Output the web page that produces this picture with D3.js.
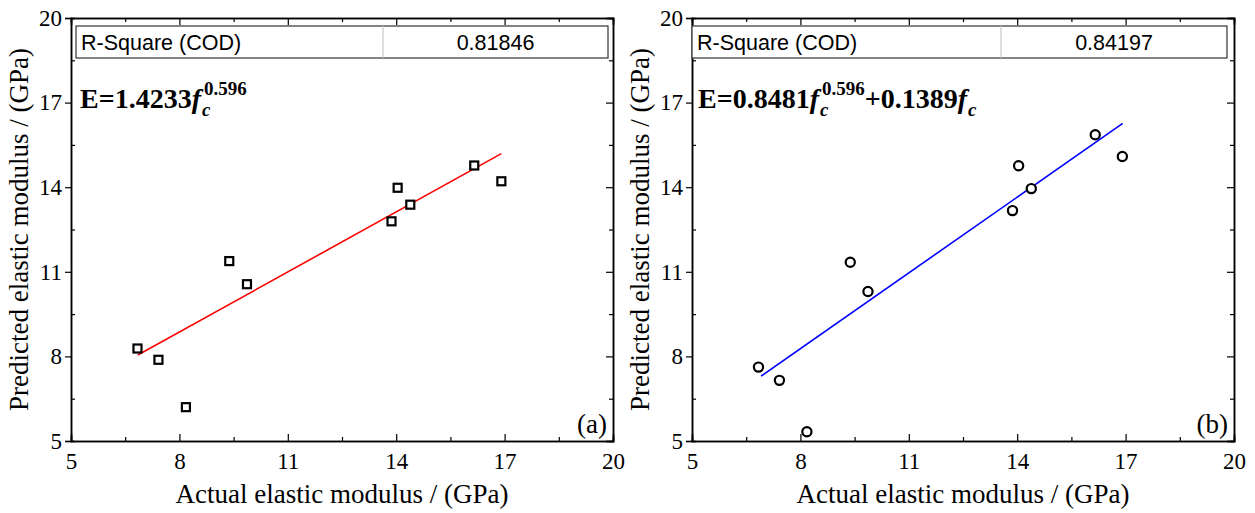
<!DOCTYPE html>
<html>
<head>
<meta charset="utf-8">
<script src="https://cdn.jsdelivr.net/npm/d3@7"></script>
<style>
  html, body { margin: 0; padding: 0; background: #fff; }
  svg { display: block; }
</style>
</head>
<body>
<svg id="chart" width="1255" height="513"></svg>
<script>
// Measured elastic modulus of the specimens (GPa)
const actual = [6.84, 7.42, 8.18, 9.38, 9.87, 13.87, 14.04, 14.39, 16.16, 16.91];
// Model (a): E = 1.4233 fc^0.596
const predictedA = [8.28, 7.88, 6.20, 11.38, 10.56, 12.79, 13.98, 13.38, 14.77, 14.21];
// Model (b): E = 0.8481 fc^0.596 + 0.1389 fc
const predictedB = [7.62, 7.15, 5.33, 11.34, 10.30, 13.17, 14.76, 13.95, 15.86, 15.09];
// Linear fit endpoints of predicted vs actual
const fitAx = [6.85, 16.91];
const fitAy = [8.05, 15.19];
const fitBx = [6.91, 16.92];
const fitBy = [7.30, 16.26];
// Axis ticks
const majorTicks = [5, 8, 11, 14, 17, 20];
const minorTicks = [6.5, 9.5, 12.5, 15.5, 18.5];
const rSquare = ["0.81846", "0.84197"];
const panelTags = ["(a)", "(b)"];

const svg = d3.select("#chart");
const serif = "'Liberation Serif', 'Times New Roman', serif";
const sans = "'Liberation Sans', Arial, sans-serif";

const panels = [
  { x0: 71, x1: 613, pred: predictedA, fx: fitAx, fy: fitAy, color: "#ff0000", marker: "square",
    r2: rSquare[0], tag: panelTags[0], tableX0: 76, tableX1: 608, divX: 383, eqX: 80,
    eq: [{t: "E=1.4233"}, {t: "f", i: true}, {t: "c", i: true, sub: true}, {t: "0.596", sup: true, stack: true}] },
  { x0: 692, x1: 1234, pred: predictedB, fx: fitBx, fy: fitBy, color: "#0000ff", marker: "circle",
    r2: rSquare[1], tag: panelTags[1], tableX0: 692, tableX1: 1227, divX: 1001, eqX: 698,
    eq: [{t: "E=0.8481"}, {t: "f", i: true}, {t: "c", i: true, sub: true}, {t: "0.596", sup: true, stack: true},
         {t: "+0.1389"}, {t: "f", i: true}, {t: "c", i: true, sub: true}] }
];
const yTop = 18, yBot = 441;

panels.forEach(p => {
  const x = d3.scaleLinear().domain([5, 20]).range([p.x0, p.x1]);
  const y = d3.scaleLinear().domain([5, 20]).range([yBot, yTop]);
  const g = svg.append("g");

  // Frame axes: ticks pointing into the plot, labels on left and bottom
  const fmt = d3.format("d");
  const bottom = g.append("g").attr("transform", `translate(0,${yBot})`)
    .call(d3.axisBottom(x).tickValues(majorTicks).tickSize(-7).tickPadding(12).tickFormat(fmt));
  bottom.append("g").call(d3.axisBottom(x).tickValues(minorTicks).tickSize(-4).tickFormat(""));
  const top = g.append("g").attr("transform", `translate(0,${yTop})`)
    .call(d3.axisTop(x).tickValues(majorTicks).tickSize(-7).tickFormat(""));
  top.append("g").call(d3.axisTop(x).tickValues(minorTicks).tickSize(-4).tickFormat(""));
  const left = g.append("g").attr("transform", `translate(${p.x0},0)`)
    .call(d3.axisLeft(y).tickValues(majorTicks).tickSize(6).tickPadding(3).tickFormat(fmt));
  left.append("g").call(d3.axisLeft(y).tickValues(minorTicks).tickSize(-4).tickFormat(""));
  const right = g.append("g").attr("transform", `translate(${p.x1},0)`)
    .call(d3.axisRight(y).tickValues(majorTicks).tickSize(-7).tickFormat(""));
  right.append("g").call(d3.axisRight(y).tickValues(minorTicks).tickSize(-4).tickFormat(""));

  g.selectAll(".domain").attr("stroke", "#000").attr("stroke-width", 1.5);
  g.selectAll(".tick line").attr("stroke", "#000").attr("stroke-width", 1.2);
  g.selectAll(".tick text").attr("font-family", serif).attr("font-size", 23).attr("fill", "#000");

  // Fit line
  g.append("path")
    .datum(d3.zip(p.fx, p.fy))
    .attr("d", d3.line().x(d => x(d[0])).y(d => y(d[1])))
    .attr("stroke", p.color).attr("stroke-width", 1.6).attr("fill", "none");

  // Data markers
  const pts = d3.zip(actual, p.pred);
  if (p.marker === "square") {
    g.selectAll("rect.pt").data(pts).join("rect").attr("class", "pt")
      .attr("x", d => x(d[0]) - 4).attr("y", d => y(d[1]) - 4)
      .attr("width", 8).attr("height", 8)
      .attr("fill", "#fff").attr("stroke", "#000").attr("stroke-width", 2.2);
  } else {
    g.selectAll("circle.pt").data(pts).join("circle").attr("class", "pt")
      .attr("cx", d => x(d[0])).attr("cy", d => y(d[1])).attr("r", 4.6)
      .attr("fill", "#fff").attr("stroke", "#000").attr("stroke-width", 2.2);
  }

  // R-square table
  const tY0 = 26, tY1 = 58;
  g.append("rect").attr("x", p.tableX0).attr("y", tY0)
    .attr("width", p.tableX1 - p.tableX0).attr("height", tY1 - tY0)
    .attr("fill", "#fff").attr("stroke", "#333").attr("stroke-width", 1.2);
  g.append("line").attr("x1", p.divX).attr("x2", p.divX).attr("y1", tY0).attr("y2", tY1)
    .attr("stroke", "#c8c8c8").attr("stroke-width", 1.2);
  g.append("text").attr("x", p.tableX0 + 5).attr("y", 50)
    .attr("font-family", sans).attr("font-size", 21.5).text("R-Square (COD)");
  g.append("text").attr("x", (p.divX + p.tableX1) / 2).attr("y", 50).attr("text-anchor", "middle")
    .attr("font-family", sans).attr("font-size", 21.5).text(p.r2);

  // Equation, laid out piece by piece so sub/superscripts stack
  let cx = p.eqX, prevStart = cx;
  const base = 108;
  p.eq.forEach(piece => {
    const small = piece.sub || piece.sup;
    const startX = piece.stack ? prevStart : cx;
    const t = g.append("text")
      .attr("x", startX)
      .attr("y", base + (piece.sub ? 8 : piece.sup ? -13 : 0))
      .attr("font-family", serif).attr("font-weight", "bold")
      .attr("font-style", piece.i ? "italic" : "normal")
      .attr("font-size", small ? 19 : 28)
      .text(piece.t);
    const w = t.node().getComputedTextLength();
    if (piece.stack) {
      cx = Math.max(cx, startX + w);
    } else {
      if (piece.sub) prevStart = startX + 2;
      cx = startX + w + (piece.t === "f" ? 1 : 0);
    }
  });

  // Panel tag
  g.append("text").attr("x", p.x1 - 6).attr("y", 433).attr("text-anchor", "end")
    .attr("font-family", serif).attr("font-size", 27).text(p.tag);

  // Axis titles
  g.append("text").attr("x", (p.x0 + p.x1) / 2).attr("y", 503).attr("text-anchor", "middle")
    .attr("font-family", serif).attr("font-size", 27).text("Actual elastic modulus / (GPa)");
  g.append("text")
    .attr("transform", `translate(${p.x0 - 43},${(yTop + yBot) / 2}) rotate(-90)`)
    .attr("text-anchor", "middle")
    .attr("font-family", serif).attr("font-size", 27).text("Predicted elastic modulus / (GPa)");
});
</script>
</body>
</html>
